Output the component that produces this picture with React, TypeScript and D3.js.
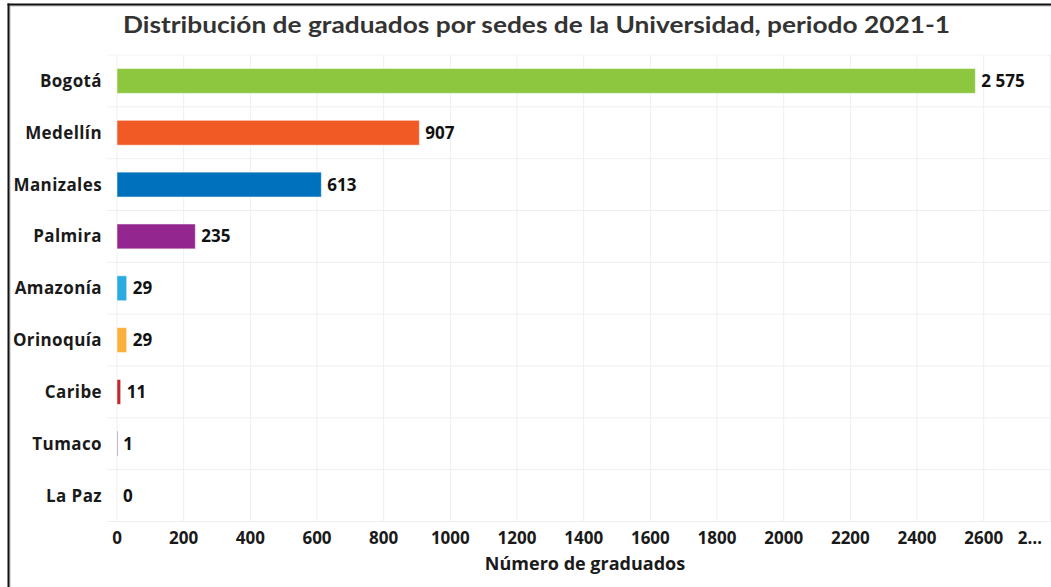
import React from "react";
import * as d3 from "d3";

const categories = ["Bogotá", "Medellín", "Manizales", "Palmira", "Amazonía", "Orinoquía", "Caribe", "Tumaco", "La Paz"];
const values = [2575, 907, 613, 235, 29, 29, 11, 1, 0];
const valueLabels = ["2 575", "907", "613", "235", "29", "29", "11", "1", "0"];
const colors = ["#8DC63F", "#F15A24", "#0071BC", "#93278F", "#29ABE2", "#FBB03B", "#C1272D", "#662D91", "#009245"];
const ticks = [0, 200, 400, 600, 800, 1000, 1200, 1400, 1600, 1800, 2000, 2200, 2400, 2600];
const title = "Distribución de graduados por sedes de la Universidad, periodo 2021-1";
const xTitle = "Número de graduados";

export default function App() {
  const W = 1051, H = 587;
  const left = 117, top = 55, bottom = 521.5;
  const x = d3.scaleLinear().domain([0, 2600]).range([left, left + 866.7]);
  const y = d3.scaleBand().domain(categories).range([top, bottom]).paddingInner(0.52).paddingOuter(0.26);
  const yStep = d3.scaleBand().domain(categories).range([top, bottom]);
  const font = "'Open Sans', sans-serif";
  const fs = 17;
  return (
    <svg width={W} height={H} style={{ position: "absolute", left: 0, top: 0, background: "#fff" }}>
      <rect x={0} y={0} width={W} height={H} fill="#fff" />
      {ticks.map((t) => (
        <line key={"v" + t} x1={x(t)} x2={x(t)} y1={top} y2={bottom} stroke="#efefef" strokeWidth={1} />
      ))}
      <line x1={x(2800)} x2={x(2800)} y1={top} y2={bottom} stroke="#efefef" />
      {categories.map((c) => (
        <line key={"h" + c} x1={107} x2={W} y1={(yStep(c) as number) + yStep.step()} y2={(yStep(c) as number) + yStep.step()} stroke="#efefef" />
      ))}
      <line x1={107} x2={W} y1={top} y2={top} stroke="#f4f4f4" />
      {categories.map((c, i) => (
        <rect key={c} x={x(0)} y={y(c)} width={Math.max(0, x(values[i]) - x(0))} height={y.bandwidth()} fill={colors[i]}
          stroke={values[i] > 5 ? "rgba(255,255,255,0.5)" : "none"} strokeWidth={1} />
      ))}
      {categories.map((c) => (
        <text key={"l" + c} x={102} y={(y(c) as number) + y.bandwidth() / 2} dy="0.35em" textAnchor="end" letterSpacing={0.4}
          fontFamily={font} fontWeight={700} fontSize={fs} fill="#1a1a1a">{c}</text>
      ))}
      {categories.map((c, i) => (
        <text key={"v" + c} x={x(values[i]) + 6} y={(y(c) as number) + y.bandwidth() / 2} dy="0.35em"
          fontFamily={font} fontWeight={700} fontSize={fs} fill="#111">{valueLabels[i]}</text>
      ))}
      {ticks.map((t) => (
        <text key={"t" + t} x={x(t)} y={538} dy="0.35em" textAnchor="middle" fontFamily={font} fontWeight={700} fontSize={fs} fill="#1a1a1a">{t}</text>
      ))}
      <text x={1042} y={538} dy="0.35em" textAnchor="end" fontFamily={font} fontWeight={700} fontSize={fs} fill="#1a1a1a">2…</text>
      <text x={585} y={564} dy="0.35em" textAnchor="middle" fontFamily={font} fontWeight={700} fontSize={18} fill="#1a1a1a">{xTitle}</text>
      <text x={123} y={25} dy="0.35em" textLength={827} lengthAdjust="spacingAndGlyphs" fontFamily="Lato, sans-serif" fontWeight={700} fontSize={23} fill="#333">{title}</text>
      <line x1={10} x2={W} y1={6} y2={6} stroke="#bbb" strokeWidth={1} />
      <line x1={10} x2={10} y1={6} y2={H} stroke="#bbb" strokeWidth={1} />
      <line x1={7.5} x2={W} y1={4.5} y2={4.5} stroke="#111" strokeWidth={2} />
      <line x1={8.5} x2={8.5} y1={3.5} y2={H} stroke="#111" strokeWidth={2} />
    </svg>
  );
}
